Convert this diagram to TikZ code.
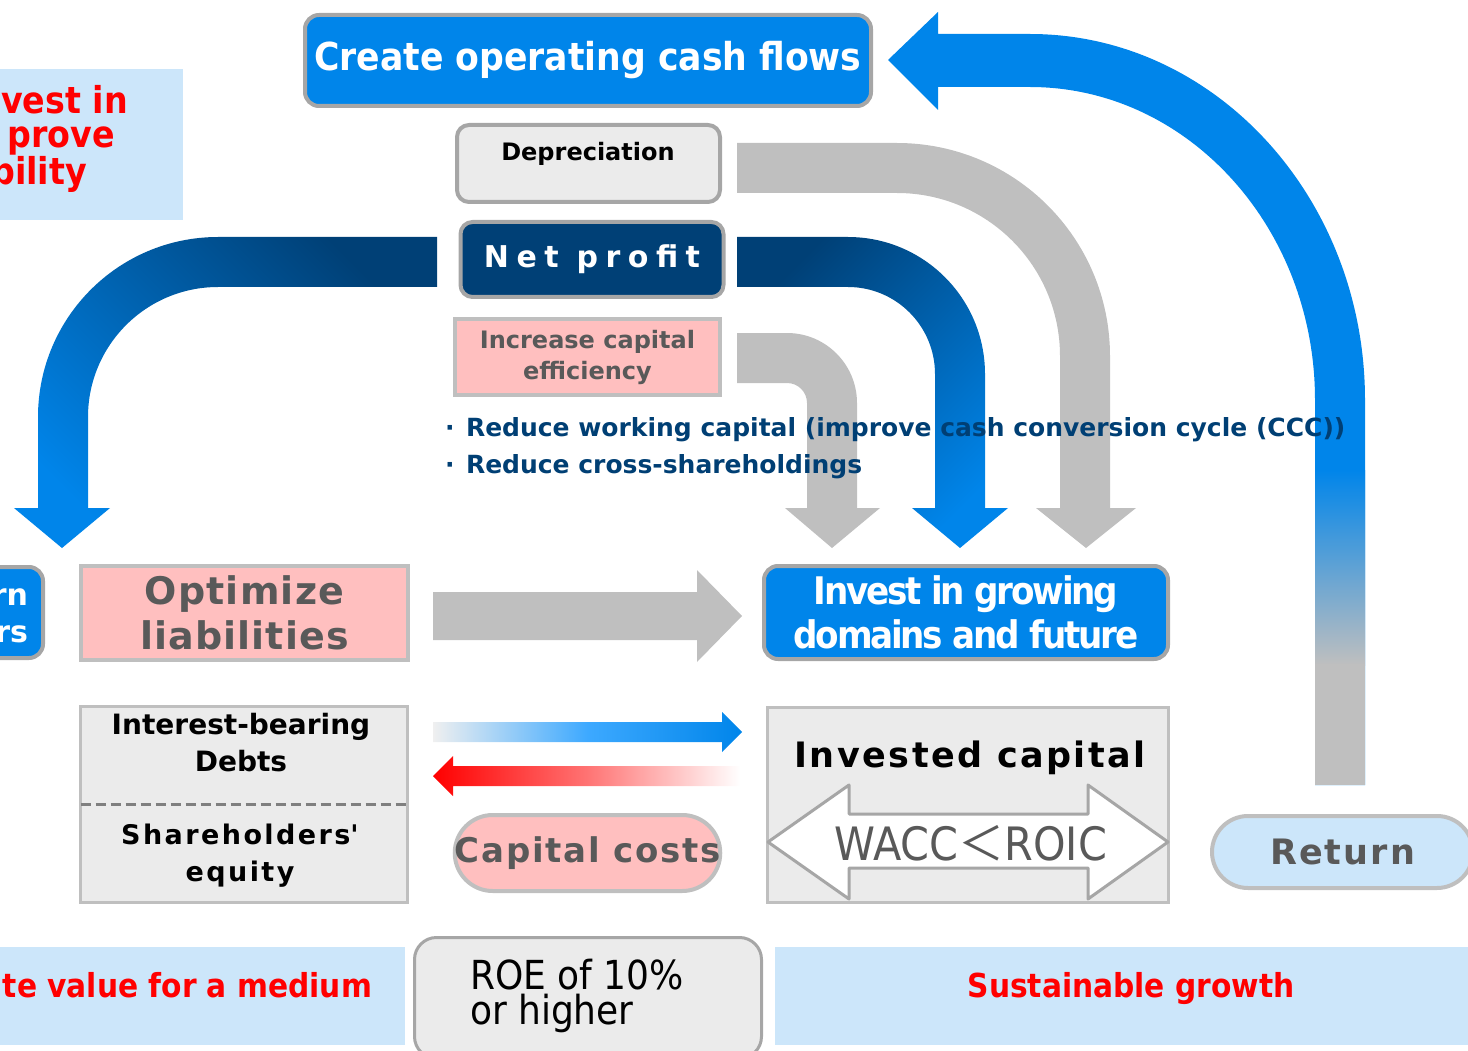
\documentclass[tikz,border=0pt]{standalone}
\usepackage{fontspec}
\setmainfont{DejaVu Sans}
\newfontfamily\condf{DejaVu Sans Condensed}
\newfontfamily\cjkf{Noto Sans CJK JP}
\definecolor{cblue}{HTML}{0085EA}
\definecolor{navy}{HTML}{004076}
\definecolor{pinkf}{HTML}{FFBFBF}
\definecolor{lgray}{HTML}{EBEBEB}
\definecolor{bgray}{HTML}{A6A6A6}
\definecolor{agray}{HTML}{BFBFBF}
\definecolor{lblue}{HTML}{CCE6FA}
\definecolor{dgray}{HTML}{595959}
\definecolor{tnavy}{HTML}{003F74}
\definecolor{midblue}{HTML}{3DA9FF}
\definecolor{dashg}{HTML}{7F7F7F}
\newcommand\fs[2]{\fontsize{#1}{#2}\selectfont}
\begin{document}
\begin{tikzpicture}[x=1pt,y=-1pt,
  every node/.style={inner sep=0pt,outer sep=0pt,align=center},
  rbox/.style={draw=bgray,line width=4pt,rounded corners=14pt},
  pbox/.style={draw=agray,line width=4pt,fill=pinkf},
  gbox/.style={draw=agray,line width=3pt,fill=lgray},
  blk/.style={fill=agray}]
\useasboundingbox (0,0) rectangle (1468,1051);
% background bands
\fill[lblue] (0,69) rectangle (183,220);
\fill[lblue] (0,947) rectangle (405,1045);
\fill[lblue] (775,947) rectangle (1468,1045);
% texts in bands
\node[anchor=base east,font=\condf\bfseries\fs{37}{37},text=red] (t1) at (128,114) {vest in};
\node[anchor=base east,font=\condf\bfseries\fs{37}{37},text=red] (t2) at (115,148) {prove};
\node[anchor=base east,font=\condf\bfseries\fs{37}{37},text=red] (t3) at (87,185) {bility};
\node[anchor=base east,font=\condf\bfseries\fs{33}{33},text=red] (bl) at (372,997) {te value for a medium};
\node[anchor=base,font=\condf\bfseries\fs{33}{33},text=red] (br) at (1131,997) {Sustainable growth};

% curved arrows
\shade[top color=navy,bottom color=cblue,shading angle=-45]
  (437,237) -- (218,237) arc[start angle=270,end angle=180,radius=180]
  -- (38,508) -- (14,508) -- (62,548) -- (110,508) -- (88,508) -- (88,417)
  arc[start angle=180,end angle=270,radius=130] -- (437,287) -- cycle;
\fill[blk] (737,143) -- (897,143) arc[start angle=270,end angle=360,radius=213]
  -- (1110,508) -- (1136,508) -- (1086,548) -- (1036,508) -- (1060,508) -- (1060,356)
  arc[start angle=0,end angle=-90,radius=163] -- (737,193) -- cycle;
\fill[blk] (737,333) -- (787,333) arc[start angle=270,end angle=360,radius=70]
  -- (857,508) -- (880,508) -- (832,548) -- (785,508) -- (807,508) -- (807,403)
  arc[start angle=0,end angle=-90,radius=20] -- (737,383) -- cycle;
\shade[top color=navy,bottom color=cblue,shading angle=45]
  (737,237) -- (848,237) arc[start angle=270,end angle=360,radius=137]
  -- (985,508) -- (1008,508) -- (960,548) -- (912,508) -- (935,508) -- (935,374)
  arc[start angle=0,end angle=-90,radius=87] -- (737,287) -- cycle;
% return arrow
\fill[cblue] (938,12) -- (888,60) -- (938,110) -- (938,87) -- (1030,87)
  arc[start angle=270,end angle=360,x radius=285,y radius=313]
  -- (1315,785) -- (1365,785) -- (1365,400)
  arc[start angle=0,end angle=-90,x radius=335,y radius=366] -- (938,34) -- cycle;
\shade[top color=cblue,bottom color=agray] (1315,470) rectangle (1365,665);
\fill[agray] (1315,664) rectangle (1365,785);

% horizontal arrows
\fill[blk] (433,592) -- (697,592) -- (697,570) -- (742,616) -- (697,662) -- (697,640) -- (433,640) -- cycle;
\shade[left color=white!94!black,right color=cblue,middle color=midblue]
  (433,722) -- (722,722) -- (722,712) -- (742,732) -- (722,752) -- (722,742) -- (433,742) -- cycle;
\shade[left color=red,right color=white,middle color=red!55!white]
  (433,776) -- (453,756) -- (453,766) -- (740,766) -- (740,786) -- (453,786) -- (453,796) -- cycle;

% boxes
\node[rbox,fill=cblue,minimum width=566pt,minimum height=91pt,font=\condf\bfseries\fs{38.5}{44},text=white] (cof) at (588,60.5) {Create operating cash flows};
\node[rbox,fill=lgray,minimum width=263pt,minimum height=77pt,rounded corners=12pt] (dep) at (588.5,163.5) {};
\node[font=\bfseries\fs{24}{28}] (dept) at (588,154) {Depreciation};
\node[rbox,fill=navy,minimum width=263pt,minimum height=75pt,rounded corners=12pt,text=white,font=\bfseries\fs{30}{34}\addfontfeatures{LetterSpace=25}] (np) at (592,259.5) {Net profit};
\node[pbox,minimum width=265pt,minimum height=76pt,text=dgray,font=\bfseries\fs{24}{31}] (ice) at (587.5,357) {Increase capital\\efficiency};

\node[anchor=base west,font=\bfseries\fs{25}{25},text=tnavy] (d1) at (445,436) {·};
\node[anchor=base west,font=\bfseries\fs{25}{25},text=tnavy] (b1) at (466,436) {Reduce working capital (improve cash conversion cycle (CCC))};
\node[anchor=base west,font=\bfseries\fs{25}{25},text=tnavy] (d2) at (445,473) {·};
\node[anchor=base west,font=\bfseries\fs{25}{25},text=tnavy] (b2) at (466,473) {Reduce cross-shareholdings};

\node[rbox,fill=cblue,minimum width=121pt,minimum height=91pt] (rr) at (-17.5,612.5) {};
\node[anchor=base east,font=\bfseries\fs{30}{30},text=white] (rrt1) at (28,605) {rn};
\node[anchor=base east,font=\bfseries\fs{30}{30},text=white] (rrt2) at (28,642) {rs};

\node[pbox,minimum width=327pt,minimum height=94pt,text=dgray,font=\bfseries\fs{38}{45}\addfontfeatures{LetterSpace=3}] (ol) at (244.5,613) {Optimize\\liabilities};
\node[rbox,fill=cblue,minimum width=404pt,minimum height=93pt,text=white,font=\condf\bfseries\fs{38}{44}\addfontfeatures{LetterSpace=-6}] (igd) at (966,612.5) {Invest in growing\\domains and future};

\node[gbox,minimum width=327pt,minimum height=196pt] (ibd) at (244,804.5) {};
\draw[dashg,line width=3pt,dash pattern=on 10pt off 5pt] (ibd.west |- 0,804) coordinate (dl) -- (ibd.east |- 0,804) coordinate (dr);
\node[font=\bfseries\fs{28}{37}] (ibdt) at (241,743) {Interest-bearing\\Debts};
\node[font=\bfseries\fs{27}{37}\addfontfeatures{LetterSpace=9}] (she) at (240,856) {Shareholders\textquotesingle\\equity};

\node[pbox,minimum width=265pt,minimum height=76pt,rounded corners=38pt,text=dgray,font=\bfseries\fs{34}{36}\addfontfeatures{LetterSpace=5}] (cc) at (587.5,853) {Capital costs};

\node[gbox,minimum width=401pt,minimum height=195pt] (ic) at (968,805) {};
\node[font=\bfseries\fs{35}{36}\addfontfeatures{LetterSpace=7}] (ict) at (970,758) {Invested capital};
\filldraw[fill=white,draw=bgray,line width=3pt,line join=round] (768,842) -- (849,785) -- (849,814) -- (1088,814) -- (1088,785) -- (1168,842) -- (1088,899) -- (1088,868) -- (849,868) -- (849,899) -- cycle;
\node[font=\condf\fs{46}{46},text=dgray] (wr) at (971,843) {WACC{\cjkf ＜}ROIC};

\node[draw=agray,line width=4pt,fill=lblue,rounded corners=36pt,minimum width=261pt,minimum height=72pt,text=dgray,font=\bfseries\fs{35}{36}\addfontfeatures{LetterSpace=6}] (ret) at (1342.5,852) {Return};

\node[draw=bgray,line width=3pt,fill=lgray,rounded corners=22pt,minimum width=347pt,minimum height=121pt] (roe) at (588,998) {};
\node[anchor=north west,align=left,font=\condf\fs{40}{35}] (roet) at (470,959) {ROE of 10\%\\or higher};
\end{tikzpicture}
\end{document}
